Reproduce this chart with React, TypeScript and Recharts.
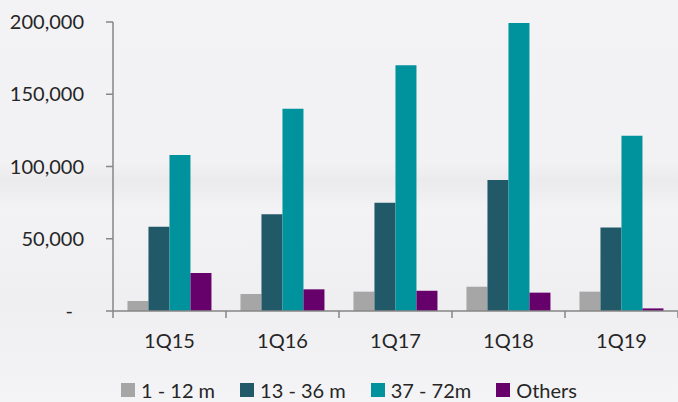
import { Bar, BarChart, Legend, XAxis, YAxis } from "recharts"

// quarterly volumes by tenor bucket
const QUARTERS = ["1Q15", "1Q16", "1Q17", "1Q18", "1Q19"]
const M1_12 = [7000, 11800, 13400, 16800, 13400]
const M13_36 = [58300, 67000, 75000, 90700, 57700]
const M37_72 = [108000, 140000, 170000, 199300, 121300]
const OTHERS = [26300, 15000, 14000, 12700, 1800]
const Y_TICKS = [0, 50000, 100000, 150000, 200000]

const SERIES = [
  { key: "m1", name: "1 - 12 m", color: "#a6a6a6", values: M1_12 },
  { key: "m13", name: "13 - 36 m", color: "#215968", values: M13_36 },
  { key: "m37", name: "37 - 72m", color: "#00939d", values: M37_72 },
  { key: "oth", name: "Others", color: "#66006a", values: OTHERS },
]

const data = QUARTERS.map((q, i) => {
  const row: any = { q }
  SERIES.forEach((s) => (row[s.key] = s.values[i]))
  return row
})

const W = 678
const H = 402
const AXIS = "#868686"
const TEXT = "#262626"
const FONT = "Lato, 'Open Sans', sans-serif"
const HALF_BAND = (W - 113) / QUARTERS.length / 2

function YTick({ x, y, payload }: any) {
  const zero = payload.value === 0
  return (
    <text x={zero ? x - 11 : x} y={y} dy="0.355em" textAnchor="end" fontSize={20} fill={TEXT} fontFamily={FONT}>
      {zero ? "-" : payload.value.toLocaleString("en-US")}
    </text>
  )
}

function XTick({ x, y, payload, index }: any) {
  const last = index === QUARTERS.length - 1
  return (
    <g>
      <line x1={x - HALF_BAND} x2={x - HALF_BAND} y1={y} y2={y + 7} stroke={AXIS} strokeWidth={1.5} />
      {last && <line x1={x + HALF_BAND} x2={x + HALF_BAND} y1={y} y2={y + 7} stroke={AXIS} strokeWidth={1.5} />}
      <text x={x} y={y + 37} textAnchor="middle" fontSize={20} fill={TEXT} fontFamily={FONT}>
        {payload.value}
      </text>
    </g>
  )
}

function LegendBox() {
  return (
    <div
      style={{
        height: 24,
        display: "flex",
        justifyContent: "center",
        alignItems: "center",
        gap: 25,
        paddingLeft: 20,
        fontFamily: FONT,
        fontSize: 20,
        color: TEXT,
      }}
    >
      {SERIES.map((s) => (
        <div key={s.key} style={{ display: "flex", alignItems: "center" }}>
          <span style={{ width: 14, height: 14, background: s.color, marginRight: 6, display: "inline-block" }} />
          <span>{s.name}</span>
        </div>
      ))}
    </div>
  )
}

export default function App() {
  return (
    <div
      style={{
        position: "absolute",
        left: 0,
        top: 0,
        width: W,
        height: H,
        overflow: "hidden",
        background: "linear-gradient(180deg, #f3f3f6 0%, #f2f2f5 40%, #ebebee 45%, #f3f3f5 52%, #efeff2 75%, #f4f4f6 100%)",
      }}
    >
      <BarChart
        width={W}
        height={H}
        data={data}
        margin={{ top: 22, right: 0, left: 0, bottom: 0 }}
        barCategoryGap="12.8%"
        barGap={0}
      >
        <XAxis
          dataKey="q"
          height={67}
          tickLine={false}
          tickSize={0}
          tickMargin={0}
          axisLine={{ stroke: AXIS, strokeWidth: 1.5 }}
          tick={<XTick />}
          interval={0}
        />
        <YAxis
          width={113}
          domain={[0, 200000]}
          ticks={Y_TICKS}
          tickSize={7}
          tickMargin={22}
          tickLine={{ stroke: AXIS, strokeWidth: 1.5 }}
          axisLine={{ stroke: AXIS, strokeWidth: 1.5 }}
          tick={<YTick />}
          interval={0}
        />
        <Legend verticalAlign="bottom" content={<LegendBox />} />
        {SERIES.map((s) => (
          <Bar key={s.key} dataKey={s.key} name={s.name} fill={s.color} isAnimationActive={false} />
        ))}
      </BarChart>
    </div>
  )
}
